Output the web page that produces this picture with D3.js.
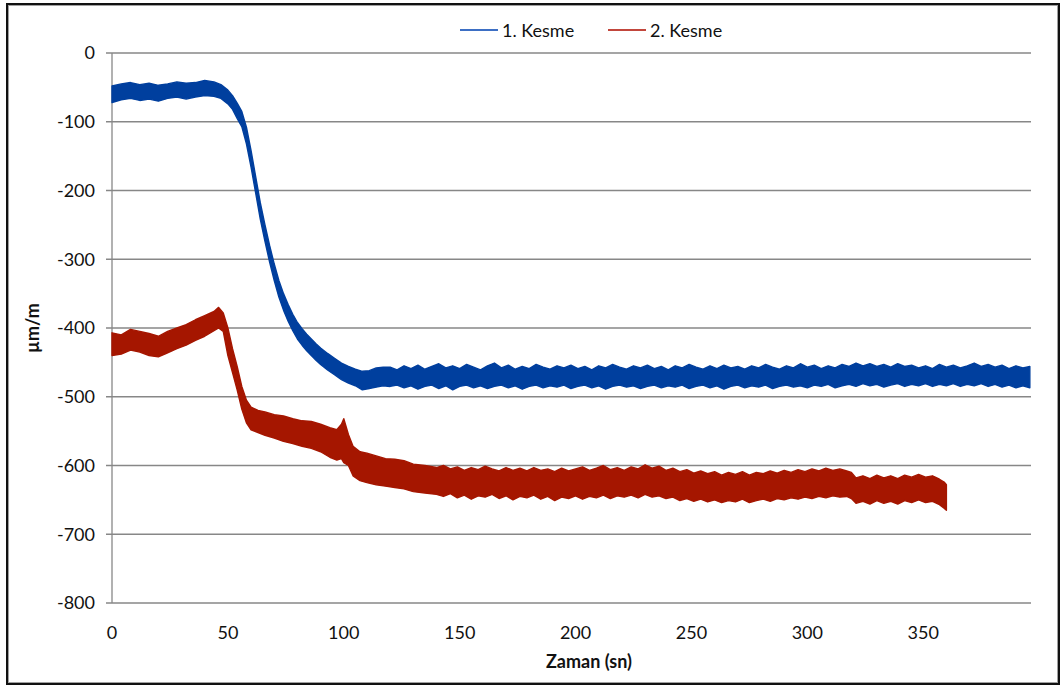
<!DOCTYPE html>
<html lang="tr">
<head>
<meta charset="UTF-8"/>
<title>Kesme</title>
<style>
  body { margin: 0; background: #fff; }
  text { font-family: Lato, "Open Sans", sans-serif; fill: #111; }
</style>
</head>
<body>
<svg id="chart" width="1061" height="686"></svg>
<script src="https://d3js.org/d3.v7.min.js"></script>
<script>
// values: [time (sn), upper edge, lower edge] of each noisy band (µm/m)
var kesme1 = [
  [0,-48,-72],[4,-45,-68],[8,-43,-66],[12,-46,-69],[16,-44,-67],[20,-47,-70],[24,-45,-66],
  [28,-42,-64],[32,-44,-67],[36,-43,-64],[40,-40,-62],[44,-42,-63],[47,-46,-66],[50,-54,-74],
  [52,-62,-82],[54,-73,-95],[56,-85,-107],[58,-108,-132],[60,-142,-166],[62,-180,-204],
  [64,-218,-242],[66,-250,-274],[68,-280,-304],[70,-307,-331],[72,-331,-355],[74,-350,-374],
  [76,-366,-390],[78,-380,-404],[80,-392,-416],[82,-401,-425],[84,-409,-433],[86,-416,-440],
  [88,-423,-447],[90,-429,-453],[93,-437,-461],[96,-444,-468],[99,-451,-475],[102,-456,-480],
  [105,-460,-484],[108,-463,-490],[111,-462,-488],[114,-458,-486],[117,-457,-484],
  [120,-457,-485],[123,-461,-483],[126,-455,-487],[129,-459,-484],[132,-454,-489],[135,-460,-485],
  [138,-456,-483],[141,-452,-488],[144,-458,-484],[147,-455,-490],[150,-459,-485],[153,-453,-483],
  [156,-457,-487],[159,-461,-484],[162,-455,-488],[165,-451,-485],[168,-458,-483],[171,-454,-487],
  [174,-460,-484],[177,-456,-489],[180,-459,-485],[183,-453,-483],[186,-457,-487],[189,-460,-484],
  [192,-455,-486],[195,-458,-483],[198,-454,-488],[201,-459,-485],[204,-456,-483],[207,-461,-487],
  [210,-455,-484],[213,-458,-489],[216,-453,-485],[219,-457,-483],[222,-460,-486],[225,-455,-484],
  [228,-458,-488],[231,-454,-485],[234,-459,-483],[237,-456,-487],[240,-461,-484],[243,-455,-486],
  [246,-458,-483],[249,-453,-488],[252,-457,-485],[255,-460,-483],[258,-455,-487],[261,-459,-484],
  [264,-454,-489],[267,-458,-485],[270,-456,-483],[273,-460,-487],[276,-455,-484],[279,-458,-486],
  [282,-453,-483],[285,-457,-488],[288,-460,-485],[291,-455,-483],[294,-458,-486],[297,-452,-484],
  [300,-457,-487],[303,-454,-483],[306,-459,-485],[309,-455,-482],[312,-458,-487],[315,-453,-484],
  [318,-456,-482],[321,-451,-485],[324,-455,-481],[327,-452,-484],[330,-456,-482],[333,-453,-486],
  [336,-457,-483],[339,-452,-481],[342,-456,-485],[345,-454,-482],[348,-458,-484],[351,-455,-481],
  [354,-459,-485],[357,-453,-482],[360,-457,-484],[363,-454,-481],[366,-458,-485],[369,-455,-482],
  [372,-451,-484],[375,-456,-481],[378,-453,-485],[381,-457,-482],[384,-454,-486],[387,-459,-483],
  [390,-455,-487],[393,-458,-484],[396,-456,-487]
];

var kesme2 = [
  [0,-407,-440],[4,-410,-438],[8,-402,-432],[12,-405,-435],[16,-408,-440],[20,-412,-442],
  [24,-405,-436],[28,-400,-430],[32,-395,-425],[36,-388,-418],[40,-382,-412],[44,-376,-404],
  [46,-370,-400],[48,-378,-405],[50,-400,-440],[52,-430,-465],[54,-456,-490],[56,-485,-518],
  [58,-505,-538],[60,-515,-548],[63,-520,-552],[66,-522,-556],[70,-526,-560],[74,-528,-565],
  [78,-532,-568],[82,-535,-572],[86,-536,-575],[90,-540,-580],[94,-545,-588],[97,-548,-592],
  [99,-540,-590],[100,-532,-596],[102,-555,-600],[104,-572,-615],[107,-580,-622],[110,-582,-625],
  [114,-586,-628],[118,-590,-630],[122,-591,-632],[126,-593,-634],[130,-598,-638],[135,-600,-640],
  [140,-603,-642],[143,-600,-645],[146,-605,-641],[149,-602,-647],[152,-607,-643],[155,-603,-649],
  [158,-606,-644],[161,-601,-646],[164,-605,-642],[167,-608,-648],[170,-603,-644],[173,-607,-650],
  [176,-604,-645],[179,-608,-647],[182,-603,-643],[185,-607,-649],[188,-605,-645],[191,-609,-651],
  [194,-604,-646],[197,-608,-648],[200,-605,-644],[203,-602,-649],[206,-607,-645],[209,-604,-647],
  [212,-600,-643],[215,-606,-648],[218,-603,-644],[221,-607,-646],[224,-602,-643],[227,-605,-647],
  [230,-599,-642],[233,-604,-646],[236,-601,-644],[239,-607,-648],[242,-604,-646],[245,-609,-651],
  [248,-606,-648],[251,-611,-652],[254,-608,-649],[257,-612,-653],[260,-609,-650],[263,-614,-654],
  [266,-610,-651],[269,-613,-653],[272,-609,-649],[275,-614,-654],[278,-610,-651],[281,-612,-649],
  [284,-608,-652],[287,-611,-648],[290,-607,-650],[293,-610,-647],[296,-606,-649],[299,-609,-646],
  [302,-605,-648],[305,-608,-645],[308,-604,-647],[311,-607,-644],[314,-605,-646],[317,-608,-645],
  [319,-610,-648],[321,-618,-655],[324,-615,-652],[327,-619,-656],[330,-614,-651],[333,-618,-655],
  [336,-615,-652],[339,-619,-656],[342,-614,-651],[345,-617,-654],[348,-613,-650],[351,-617,-654],
  [354,-615,-652],[357,-620,-657],[359,-624,-662],[360,-628,-665]
];

var seriesNames = ["1. Kesme", "2. Kesme"];
var seriesColors = ["#003f9e", "#a51600"];
var legendColors = ["#3d6fc4", "#c2463c"];
var yTicks = [0, -100, -200, -300, -400, -500, -600, -700, -800];
var xTicks = [0, 50, 100, 150, 200, 250, 300, 350];

var svg = d3.select("#chart");

var plotLeft = 112, plotRight = 1031, plotTop = 53, plotBottom = 603;

var x = d3.scaleLinear().domain([0, 396.5]).range([plotLeft, plotRight]);
var y = d3.scaleLinear().domain([-800, 0]).range([plotBottom, plotTop]);

// frame
svg.append("rect").attr("x", 7).attr("y", 4).attr("width", 1052).attr("height", 680)
  .attr("fill", "none").attr("stroke", "#111").attr("stroke-width", 2);
svg.append("rect").attr("x", 8.5).attr("y", 5.5).attr("width", 1049).attr("height", 677)
  .attr("fill", "none").attr("stroke", "#a0a0a0").attr("stroke-width", 1);

// horizontal grid
svg.append("g").selectAll("line").data(yTicks).enter().append("line")
  .attr("x1", plotLeft - 6).attr("x2", plotRight)
  .attr("y1", function (d) { return y(d); }).attr("y2", function (d) { return y(d); })
  .attr("stroke", "#878787").attr("stroke-width", 1.3);

// y axis line
svg.append("line").attr("x1", plotLeft).attr("x2", plotLeft).attr("y1", plotTop).attr("y2", plotBottom)
  .attr("stroke", "#878787").attr("stroke-width", 1.3);

// y tick labels
svg.append("g").selectAll("text").data(yTicks).enter().append("text")
  .attr("x", 95).attr("y", function (d) { return y(d); })
  .attr("dy", "0.36em").attr("text-anchor", "end")
  .style("font-size", "18px")
  .text(function (d) { return d; });

// x tick labels
svg.append("g").selectAll("text").data(xTicks).enter().append("text")
  .attr("x", function (d) { return x(d); }).attr("y", 639)
  .attr("text-anchor", "middle")
  .style("font-size", "18px")
  .text(function (d) { return d; });

// noisy bands
var band = d3.area()
  .x(function (d) { return x(d[0]); })
  .y0(function (d) { return y(d[2]); })
  .y1(function (d) { return y(d[1]); });

[kesme1, kesme2].forEach(function (s, i) {
  svg.append("path").datum(s)
    .attr("d", band)
    .attr("fill", seriesColors[i])
    .attr("stroke", seriesColors[i])
    .attr("stroke-width", 1.4)
    .attr("stroke-linejoin", "round");
});

// legend
var legX = [460, 608];
seriesNames.forEach(function (n, i) {
  svg.append("line").attr("x1", legX[i]).attr("x2", legX[i] + 38).attr("y1", 30).attr("y2", 30)
    .attr("stroke", legendColors[i]).attr("stroke-width", 2);
  svg.append("text").attr("x", legX[i] + 42).attr("y", 37)
    .style("font-size", "18px").text(n);
});

// axis titles
svg.append("text").attr("x", 589).attr("y", 668).attr("text-anchor", "middle")
  .style("font-size", "18px").style("font-weight", "bold").text("Zaman (sn)");
svg.append("text").attr("transform", "translate(39,328) rotate(-90)")
  .attr("text-anchor", "middle")
  .style("font-size", "18px").style("font-weight", "bold").text("µm/m");
</script>
</body>
</html>
